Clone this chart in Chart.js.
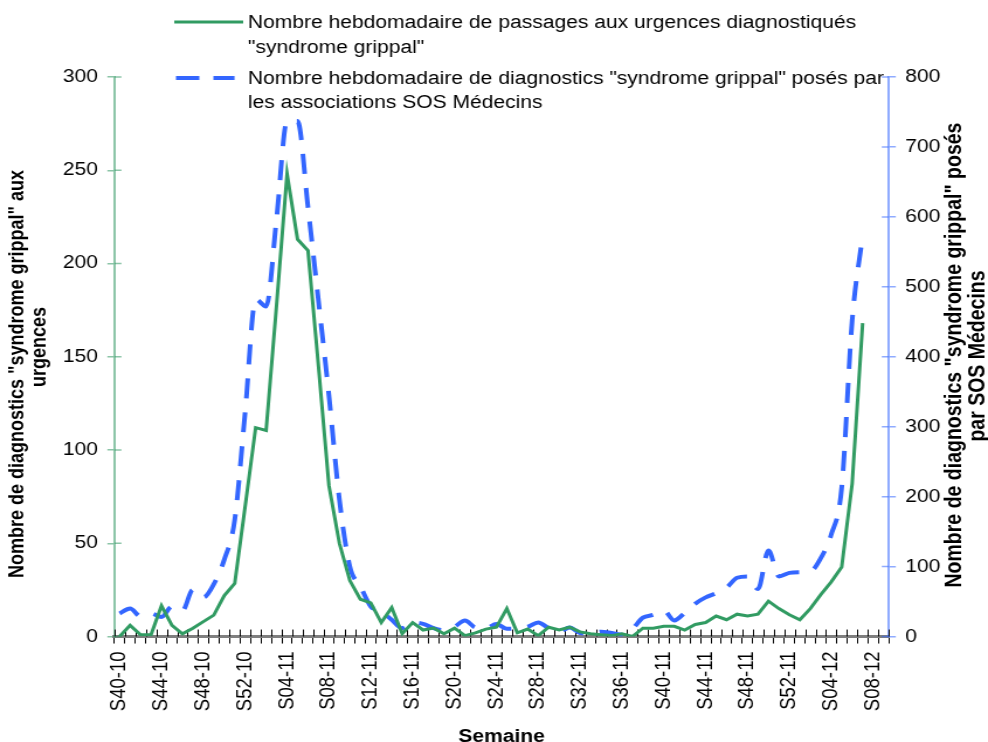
<!DOCTYPE html>
<html lang="fr">
  <head>
    <meta charset="UTF-8" />
    <title>Syndrome grippal - urgences et SOS Médecins</title>
    <script src="https://cdn.jsdelivr.net/npm/chart.js@4"></script>
    <style>
      html,
      body {
        margin: 0;
        padding: 0;
        background: #fff;
        overflow: hidden;
      }
      /* le graphique d'origine est un peu étiré en largeur */
      #cadre {
        width: 845px;
        height: 742px;
        transform: scaleX(1.1692);
        transform-origin: 0 0;
      }
    </style>
  </head>
  <body>
    <div id="cadre"><canvas id="graphe"></canvas></div>

    <script>
      // Semaines (axe des abscisses)
      const semaines = [
        "S40-10", "S41-10", "S42-10", "S43-10", "S44-10", "S45-10", "S46-10",
        "S47-10", "S48-10", "S49-10", "S50-10", "S51-10", "S52-10",
        "S01-11", "S02-11", "S03-11", "S04-11", "S05-11", "S06-11", "S07-11",
        "S08-11", "S09-11", "S10-11", "S11-11", "S12-11", "S13-11", "S14-11",
        "S15-11", "S16-11", "S17-11", "S18-11", "S19-11", "S20-11", "S21-11",
        "S22-11", "S23-11", "S24-11", "S25-11", "S26-11", "S27-11", "S28-11",
        "S29-11", "S30-11", "S31-11", "S32-11", "S33-11", "S34-11", "S35-11",
        "S36-11", "S37-11", "S38-11", "S39-11", "S40-11", "S41-11", "S42-11",
        "S43-11", "S44-11", "S45-11", "S46-11", "S47-11", "S48-11", "S49-11",
        "S50-11", "S51-11", "S52-11",
        "S01-12", "S02-12", "S03-12", "S04-12", "S05-12", "S06-12", "S07-12",
        "S08-12", "S09-12",
      ];

      // Passages aux urgences (axe de gauche)
      const urgences = [
        0, 6, 1, 1, 16.5, 6, 1.5, 4.5, 8, 11.5, 22, 28.5, 70,
        112, 110.5, 178, 248, 213, 207, 145, 81, 50, 30, 20, 18, 7.5, 15.5,
        1.5, 7.5, 3.5, 4.5, 1.5, 4.5, 0.5, 2, 4, 5, 15, 2, 4, 0.5,
        5, 3.5, 5, 2.5, 1.5, 1, 0.5, 1.5, 0, 4.5, 4.5, 5.5, 5.5, 3.5,
        6.5, 7.5, 11, 9, 12, 11, 12, 19, 15, 11.7,
        9, 15, 22.5, 29.3, 37.3, 82, 168, null, null,
      ];

      // Diagnostics SOS Médecins (axe de droite)
      const sosMedecins = [
        33, 40, 29, 33, 28, 43, 37, 67, 56, 75, 110, 167, 322,
        482, 472, 598, 737, 737, 614, 480, 345, 196, 100, 72, 43, 36, 24,
        12, 20, 18, 12, 9, 14, 23, 13, 12, 18, 11, 12, 14, 20,
        12, 7, 13, 5, 4, 7, 5, 2.5, 11, 27, 31, 37, 23, 34,
        47, 56, 62, 70, 84, 86, 68, 123, 86, 91,
        92, 93, 112, 146, 213, 452, 574, null, null,
      ];

      const legendes = [
        ["Nombre hebdomadaire de passages aux urgences diagnostiqués", '"syndrome grippal"'],
        ['Nombre hebdomadaire de diagnostics "syndrome grippal" posés par', "les associations SOS Médecins"],
      ];
      const titreGauche = ['Nombre de diagnostics "syndrome grippal" aux', "urgences"];
      const titreDroite = ['Nombre de diagnostics "syndrome grippal" posés', "par SOS Médecins"];

      const police = '"Liberation Sans", Arial, sans-serif';
      const vert = "#319b62";
      const bleu = "#3366ff";
      const vertClair = "rgba(46, 150, 96, 0.55)";
      const bleuClair = "rgba(51, 102, 255, 0.55)";

      Chart.defaults.font.family = police;
      Chart.defaults.font.size = 18;
      Chart.defaults.color = "#000";

      // petits traits de graduation qui traversent les axes
      const traitsCroises = {
        id: "traitsCroises",
        beforeDatasetsDraw(chart) {
          const { ctx, chartArea: a, scales } = chart;
          ctx.save();
          ctx.lineWidth = 1;
          ctx.strokeStyle = "#000";
          ctx.beginPath();
          const w = scales.x.getPixelForValue(1) - scales.x.getPixelForValue(0);
          for (let k = 0; k <= semaines.length; k++) {
            const px = Math.round(scales.x.getPixelForValue(k) - w / 2) + 0.5;
            ctx.moveTo(px, a.bottom);
            ctx.lineTo(px, a.bottom - 7);
          }
          ctx.stroke();

          ctx.lineWidth = 1.5;
          ctx.strokeStyle = vertClair;
          ctx.beginPath();
          scales.y.ticks.forEach((t, i) => {
            const py = scales.y.getPixelForTick(i);
            ctx.moveTo(a.left, py);
            ctx.lineTo(a.left + 6, py);
          });
          ctx.stroke();

          ctx.strokeStyle = bleuClair;
          ctx.beginPath();
          scales.y1.ticks.forEach((t, i) => {
            const py = scales.y1.getPixelForTick(i);
            ctx.moveTo(a.right, py);
            ctx.lineTo(a.right - 6, py);
          });
          ctx.stroke();
          ctx.restore();
        },
      };

      // légende sur deux lignes et titres verticaux
      const textes = {
        id: "textes",
        afterDraw(chart) {
          const ctx = chart.ctx;
          ctx.save();
          ctx.fillStyle = "#000";
          ctx.font = "18px " + police;
          ctx.textBaseline = "alphabetic";
          ctx.textAlign = "left";

          ctx.strokeStyle = vert;
          ctx.lineWidth = 3;
          ctx.beginPath();
          ctx.moveTo(149, 22);
          ctx.lineTo(208, 22);
          ctx.stroke();
          ctx.fillText(legendes[0][0], 212, 28);
          ctx.fillText(legendes[0][1], 212, 53);

          ctx.strokeStyle = bleu;
          ctx.lineWidth = 4;
          ctx.setLineDash([20, 12]);
          ctx.beginPath();
          ctx.moveTo(150.5, 78);
          ctx.lineTo(200.6, 78);
          ctx.stroke();
          ctx.setLineDash([]);
          ctx.fillText(legendes[1][0], 212, 84);
          ctx.fillText(legendes[1][1], 212, 108);

          ctx.textAlign = "center";
          ctx.textBaseline = "middle";
          const vertical = (txt, x, y) => {
            ctx.save();
            ctx.translate(x, y);
            ctx.rotate(-Math.PI / 2);
            ctx.fillText(txt, 0, 0);
            ctx.restore();
          };
          ctx.font = "bold 18px " + police;
          vertical(titreGauche[0], 15.4, 374);
          vertical(titreGauche[1], 34.2, 347);
          ctx.font = "bold 19.5px " + police;
          vertical(titreDroite[0], 816.8, 355);
          vertical(titreDroite[1], 836.5, 356);
          ctx.restore();
        },
      };

      new Chart(document.getElementById("graphe"), {
        type: "line",
        data: {
          labels: semaines,
          datasets: [
            {
              label: legendes[0].join(" "),
              data: urgences,
              yAxisID: "y",
              borderColor: vert,
              borderWidth: 3,
              pointRadius: 0,
              tension: 0,
            },
            {
              label: legendes[1].join(" "),
              data: sosMedecins,
              yAxisID: "y1",
              borderColor: bleu,
              borderWidth: 4,
              borderDash: [20, 14],
              pointRadius: 0,
              cubicInterpolationMode: "monotone",
            },
          ],
        },
        options: {
          responsive: true,
          maintainAspectRatio: false,
          animation: false,
          layout: { padding: { left: 45.8, right: 32.8, top: 77, bottom: 0 } },
          plugins: {
            legend: { display: false },
            tooltip: { enabled: false },
          },
          scales: {
            x: {
              type: "category",
              offset: true,
              grid: {
                offset: true,
                drawOnChartArea: false,
                color: "#000",
                lineWidth: 1,
                tickLength: 7,
              },
              border: { color: "#7f7f7f", width: 3 },
              ticks: {
                autoSkip: false,
                minRotation: 90,
                maxRotation: 90,
                padding: 8,
                font: { size: 18.5 },
                callback: function (v, i) {
                  return i % 4 === 0 ? this.getLabelForValue(v) : "";
                },
              },
              title: {
                display: true,
                text: "Semaine",
                font: { weight: "bold", size: 18, lineHeight: 0.6 },
                padding: { top: 12, bottom: 0 },
              },
            },
            y: {
              position: "left",
              min: 0,
              max: 300,
              ticks: { stepSize: 50, padding: 8 },
              grid: {
                drawOnChartArea: false,
                color: vertClair,
                lineWidth: 1.5,
                tickLength: 6,
              },
              border: { color: vertClair, width: 2 },
            },
            y1: {
              position: "right",
              min: 0,
              max: 800,
              ticks: { stepSize: 100, padding: 8 },
              grid: {
                drawOnChartArea: false,
                color: bleuClair,
                lineWidth: 1.5,
                tickLength: 6,
              },
              border: { color: bleuClair, width: 2 },
            },
          },
        },
        plugins: [traitsCroises, textes],
      });
    </script>
  </body>
</html>
